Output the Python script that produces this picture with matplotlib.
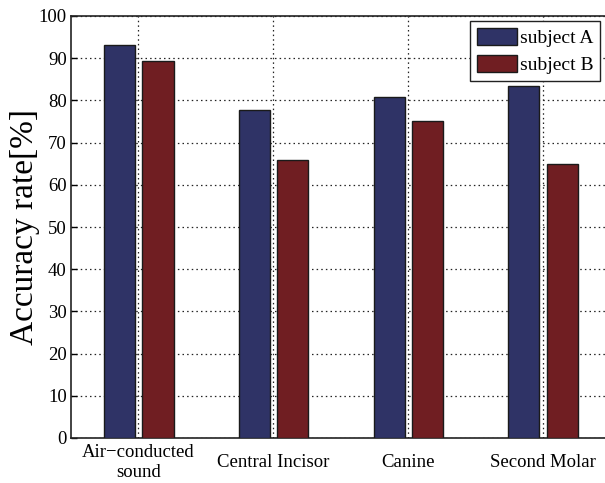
import matplotlib
matplotlib.use("Agg")
import matplotlib.pyplot as plt
import numpy as np

# data
categories = ["Air\u2212conducted\nsound", "Central Incisor", "Canine", "Second Molar"]
subject_a = [93.2, 77.7, 80.8, 83.3]
subject_b = [89.3, 65.9, 75.2, 65.0]
series_names = ["subject A", "subject B"]

plt.rcParams['font.family'] = ['Liberation Serif', 'DejaVu Serif']

fig = plt.figure(figsize=(6.05, 4.83), dpi=100)
ax = fig.add_axes([71/605, 45/483, 539/605, 422/483])

x = np.arange(1, len(categories) + 1)
ax.bar(x - 0.14, subject_a, width=0.23, color='#2f3366', edgecolor='#1a1a1a',
       linewidth=1.0, label=series_names[0], zorder=3)
ax.bar(x + 0.145, subject_b, width=0.232, color='#701e22', edgecolor='#1a1a1a',
       linewidth=1.0, label=series_names[1], zorder=3)

ax.set_xlim(0.5, 4.5)
ax.set_ylim(0, 100)
ax.set_yticks(np.arange(0, 101, 10))
ax.set_xticks(x)
ax.set_xticklabels(categories, fontsize=13.5, linespacing=1.2, va='center')
ax.tick_params(axis='y', labelsize=13.5, direction='in', length=4, width=1, pad=3)
ax.tick_params(axis='x', direction='in', length=0, pad=17.5)

ax.grid(True, color='#222222', linestyle=(0, (1.2, 2.5)), linewidth=0.9, zorder=1)
ax.set_axisbelow(True)
for s in ax.spines.values():
    s.set_linewidth(1.2)
    s.set_color('#222222')

ax.set_ylabel("Accuracy rate[%]", fontsize=24)
ax.yaxis.set_label_coords(-0.058, 0.5)

leg = ax.legend(loc='upper right', fontsize=14, fancybox=False,
                framealpha=1, edgecolor='#222222', handlelength=2.06,
                handleheight=1.0, handletextpad=0.15, borderpad=0.35,
                labelspacing=0.4, borderaxespad=0)
leg.get_frame().set_linewidth(1.0)
leg.set_bbox_to_anchor((600/605, 1 - 21/483), transform=fig.transFigure)

fig.savefig("out.png", dpi=100)
